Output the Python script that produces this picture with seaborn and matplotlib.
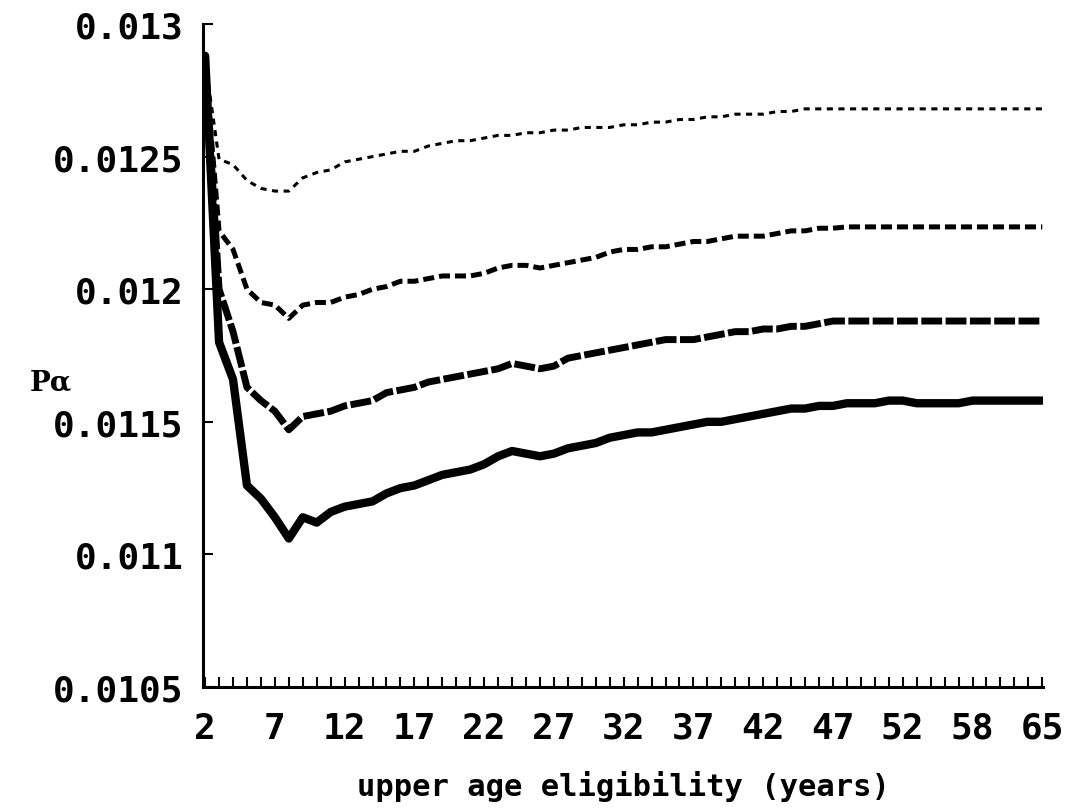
import numpy as np
import pandas as pd
import matplotlib
matplotlib.use("Agg")
import matplotlib.pyplot as plt
import seaborn as sns

# x tick labels (every 5th point on the axis), 61 points in total
tick_labels = ["2", "7", "12", "17", "22", "27", "32", "37", "42", "47", "52", "58", "65"]

# P_alpha curves (top to bottom)
curve_dotted = [
    0.01286, 0.01249, 0.01247, 0.01241, 0.01238, 0.01237, 0.01237, 0.01242, 0.01244, 0.01245,
    0.01248, 0.01249, 0.01250, 0.01251, 0.01252, 0.01252, 0.01254, 0.01255, 0.01256, 0.01256,
    0.01257, 0.01258, 0.01258, 0.01259, 0.01259, 0.01260, 0.01260, 0.01261, 0.01261, 0.01261,
    0.01262, 0.01262, 0.01263, 0.01263, 0.01264, 0.01264, 0.01265, 0.01265, 0.01266, 0.01266,
    0.01266, 0.01267, 0.01267, 0.01268, 0.01268, 0.01268, 0.01268, 0.01268, 0.01268, 0.01268,
    0.01268, 0.01268, 0.01268, 0.01268, 0.01268, 0.01268, 0.01268, 0.01268, 0.01268, 0.01268,
    0.01268,
]
curve_short_dash = [
    0.01286, 0.01222, 0.01215, 0.01200, 0.01195, 0.01194, 0.01189, 0.01194, 0.01195, 0.01195,
    0.01197, 0.01198, 0.01200, 0.01201, 0.01203, 0.01203, 0.01204, 0.01205, 0.01205, 0.01205,
    0.01206, 0.01208, 0.01209, 0.01209, 0.01208, 0.01209, 0.01210, 0.01211, 0.01212, 0.01214,
    0.01215, 0.01215, 0.01216, 0.01216, 0.01217, 0.01218, 0.01218, 0.01219, 0.01220, 0.01220,
    0.01220, 0.01221, 0.01222, 0.01222, 0.01223, 0.01223, 0.012235, 0.012235, 0.012235, 0.012235,
    0.012235, 0.012235, 0.012235, 0.012235, 0.012235, 0.012235, 0.012235, 0.012235, 0.012235, 0.012235,
    0.012235,
]
curve_long_dash = [
    0.01287, 0.01200, 0.01184, 0.01163, 0.01158, 0.01154, 0.01147, 0.01152, 0.01153, 0.01154,
    0.01156, 0.01157, 0.01158, 0.01161, 0.01162, 0.01163, 0.01165, 0.01166, 0.01167, 0.01168,
    0.01169, 0.01170, 0.01172, 0.01171, 0.01170, 0.01171, 0.01174, 0.01175, 0.01176, 0.01177,
    0.01178, 0.01179, 0.01180, 0.01181, 0.01181, 0.01181, 0.01182, 0.01183, 0.01184, 0.01184,
    0.01185, 0.01185, 0.01186, 0.01186, 0.01187, 0.01188, 0.01188, 0.01188, 0.01188, 0.01188,
    0.01188, 0.01188, 0.01188, 0.01188, 0.01188, 0.01188, 0.01188, 0.01188, 0.01188, 0.01188,
    0.01188,
]
curve_solid = [
    0.01288, 0.01180, 0.01166, 0.01126, 0.01121, 0.01114, 0.01106, 0.01114, 0.01112, 0.01116,
    0.01118, 0.01119, 0.01120, 0.01123, 0.01125, 0.01126, 0.01128, 0.01130, 0.01131, 0.01132,
    0.01134, 0.01137, 0.01139, 0.01138, 0.01137, 0.01138, 0.01140, 0.01141, 0.01142, 0.01144,
    0.01145, 0.01146, 0.01146, 0.01147, 0.01148, 0.01149, 0.01150, 0.01150, 0.01151, 0.01152,
    0.01153, 0.01154, 0.01155, 0.01155, 0.01156, 0.01156, 0.01157, 0.01157, 0.01157, 0.01158,
    0.01158, 0.01157, 0.01157, 0.01157, 0.01157, 0.01158, 0.01158, 0.01158, 0.01158, 0.01158,
    0.01158,
]

y_ticks = [0.0105, 0.011, 0.0115, 0.012, 0.0125, 0.013]
y_labels = ["0.0105", "0.011", "0.0115", "0.012", "0.0125", "0.013"]

sns.set_style("ticks")
plt.rcParams["font.family"] = ["DejaVu Sans Mono", "DejaVu Sans"]
plt.rcParams["font.weight"] = "bold"
plt.rcParams["text.color"] = "black"
plt.rcParams["axes.labelcolor"] = "black"
plt.rcParams["xtick.color"] = "black"
plt.rcParams["ytick.color"] = "black"

fig, ax = plt.subplots(figsize=(10.77, 8.12), dpi=100)
fig.subplots_adjust(left=0.1885, right=0.9684, bottom=0.1527, top=0.9692)

pos = np.arange(len(curve_solid))
styles = [
    (curve_dotted, 2.2, (2.0, 1.8)),
    (curve_short_dash, 3.6, (2.2, 1.0)),
    (curve_long_dash, 5.0, (3.0, 0.5)),
    (curve_solid, 6.0, None),
]
for vals, lw, dash in styles:
    sns.lineplot(x=pos, y=vals, ax=ax, color="black", linewidth=lw)
    line = ax.lines[-1]
    if dash is not None:
        line.set_dashes(dash)

ax.set_xlim(-0.15, 60.05)
ax.set_ylim(0.0105, 0.013)
ax.set_xticks(pos[::5])
ax.set_xticklabels(tick_labels)
ax.set_xticks(pos, minor=True)
ax.set_yticks(y_ticks)
ax.set_yticklabels(y_labels)

ax.tick_params(axis="both", which="both", direction="in", length=7, width=1.5,
               colors="black")
ax.tick_params(axis="x", which="major", labelsize=26, pad=17)
ax.tick_params(axis="y", which="major", labelsize=26, pad=14)

sns.despine(ax=ax)
for side in ["left", "bottom"]:
    ax.spines[side].set_linewidth(2.2)
    ax.spines[side].set_color("black")

ax.set_xlabel("upper age eligibility (years)", fontsize=22, fontweight="bold",
              labelpad=18, color="black")
ax.set_ylabel("")
fig.text(0.047, 0.528, "Pα", fontsize=20, fontweight="bold", color="black",
         family=["DejaVu Serif", "DejaVu Sans"], ha="center", va="center")

fig.savefig("out.png", dpi=100)
